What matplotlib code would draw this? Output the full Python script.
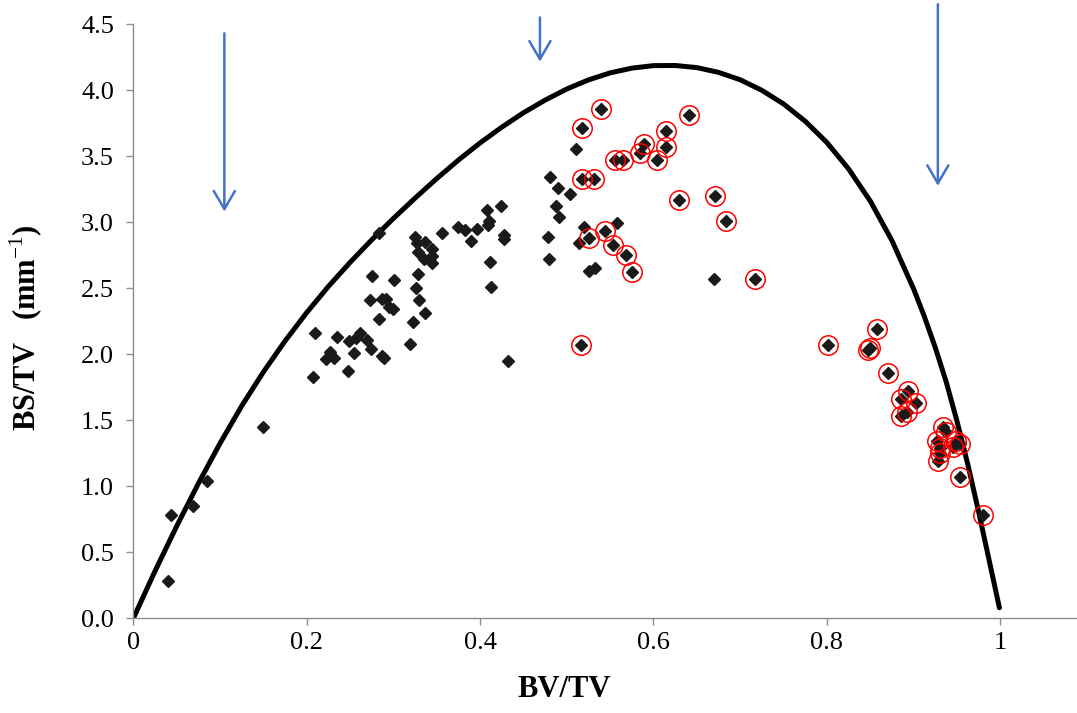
import matplotlib
matplotlib.use("Agg")
import matplotlib.pyplot as plt

plt.rcParams['font.family'] = ['Liberation Serif', 'DejaVu Serif']
plt.rcParams['mathtext.fontset'] = 'custom'
plt.rcParams['mathtext.rm'] = 'Liberation Serif'
plt.rcParams['mathtext.bf'] = 'Liberation Serif:bold'

# curve (BV/TV, BS/TV)
curve_x = [0.0, 0.025, 0.05, 0.075, 0.10, 0.125, 0.15, 0.175, 0.20, 0.225,
           0.25, 0.275, 0.30, 0.325, 0.35, 0.375, 0.40, 0.425, 0.45, 0.475,
           0.50, 0.525, 0.55, 0.575, 0.60, 0.625, 0.65, 0.675, 0.70, 0.725,
           0.75, 0.775, 0.80, 0.825, 0.85, 0.875, 0.90, 0.9125, 0.925, 0.9375,
           0.95, 0.9625, 0.975, 0.9875, 0.999]
curve_y = [0.0, 0.357, 0.698, 1.021, 1.325, 1.608, 1.865, 2.100, 2.315, 2.513,
           2.695, 2.866, 3.028, 3.182, 3.330, 3.470, 3.600, 3.719, 3.828, 3.924,
           4.008, 4.077, 4.130, 4.166, 4.185, 4.186, 4.170, 4.134, 4.078, 3.998,
           3.895, 3.764, 3.603, 3.403, 3.160, 2.861, 2.495, 2.284, 2.051, 1.793,
           1.495, 1.167, 0.808, 0.429, 0.08]

# samples without circle
black_x = [0.040, 0.044, 0.069, 0.085, 0.149,
           0.424, 0.408, 0.410, 0.409, 0.428, 0.427, 0.396, 0.382, 0.375, 0.389,
           0.356, 0.325, 0.327, 0.336, 0.328, 0.345, 0.335, 0.345, 0.344, 0.283,
           0.411, 0.412, 0.328, 0.275, 0.301, 0.326, 0.273, 0.287, 0.292, 0.295,
           0.300, 0.329, 0.283, 0.336, 0.323, 0.209, 0.235, 0.249, 0.257, 0.262,
           0.270, 0.319, 0.227, 0.222, 0.231, 0.255, 0.274, 0.287, 0.289, 0.248,
           0.207, 0.432,
           0.511, 0.481, 0.490, 0.504, 0.488, 0.491, 0.478, 0.480, 0.520, 0.558,
           0.514, 0.526, 0.533, 0.670]
black_y = [0.28, 0.78, 0.85, 1.04, 1.45,
           3.12, 3.09, 3.01, 2.98, 2.90, 2.87, 2.95, 2.94, 2.96, 2.86,
           2.92, 2.89, 2.84, 2.85, 2.77, 2.80, 2.72, 2.74, 2.69, 2.92,
           2.70, 2.51, 2.61, 2.59, 2.56, 2.50, 2.41, 2.42, 2.42, 2.36,
           2.34, 2.41, 2.27, 2.31, 2.24, 2.16, 2.13, 2.10, 2.12, 2.16,
           2.11, 2.08, 2.02, 1.96, 1.97, 2.01, 2.04, 1.99, 1.97, 1.87,
           1.83, 1.95,
           3.55, 3.34, 3.26, 3.21, 3.12, 3.04, 2.89, 2.72, 2.96, 2.99,
           2.84, 2.63, 2.65, 2.57]

# samples marked with a red circle
red_x = [0.540, 0.518, 0.641, 0.614, 0.614, 0.589, 0.584, 0.604, 0.556, 0.565,
         0.518, 0.531, 0.629, 0.671, 0.684, 0.526, 0.544, 0.553, 0.568, 0.575,
         0.516, 0.717,
         0.801, 0.858, 0.850, 0.847, 0.870, 0.894, 0.885, 0.903, 0.892, 0.885,
         0.934, 0.937, 0.927, 0.949, 0.953, 0.946, 0.931, 0.930, 0.928, 0.953, 0.980]
red_y = [3.86, 3.71, 3.81, 3.69, 3.57, 3.59, 3.52, 3.47, 3.47, 3.47,
         3.33, 3.33, 3.17, 3.20, 3.01, 2.88, 2.93, 2.83, 2.75, 2.62,
         2.07, 2.57,
         2.07, 2.19, 2.05, 2.03, 1.86, 1.72, 1.66, 1.63, 1.56, 1.53,
         1.45, 1.41, 1.34, 1.34, 1.32, 1.30, 1.29, 1.25, 1.19, 1.07, 0.78]

# blue arrows
arrow_x = [0.105, 0.469, 0.928]
arrow_start = [4.43, 4.55, 4.65]
arrow_end = [3.08, 4.215, 3.275]

fig = plt.figure(figsize=(10.77, 7.13), dpi=100)
ax = fig.add_axes([0.1238, 0.1328, 0.8762, 0.8335])

ax.plot(curve_x, curve_y, color='black', lw=3.6, solid_capstyle='round',
        solid_joinstyle='round', zorder=2)
ax.plot(black_x, black_y, 'D', color='#1a1a1a', ms=6, zorder=3)
ax.plot(red_x, red_y, 'D', color='#1a1a1a', ms=6, zorder=3)
ax.plot(red_x, red_y, 'o', mfc='none', mec='red', mew=1.1, ms=14, zorder=4)

for x, y0, y1 in zip(arrow_x, arrow_start, arrow_end):
    ax.annotate('', xy=(x, y1), xytext=(x, y0), annotation_clip=False,
                arrowprops=dict(arrowstyle='->, head_length=0.65, head_width=0.38',
                                color='#4472C4', lw=1.8, mutation_scale=20,
                                shrinkA=0, shrinkB=0))

ax.set_xlim(0, 1.0885)
ax.set_ylim(0, 4.5)
ax.set_xticks([0, 0.2, 0.4, 0.6, 0.8, 1.0])
ax.set_xticklabels(['0', '0.2', '0.4', '0.6', '0.8', '1'])
ax.set_yticks([0, 0.5, 1.0, 1.5, 2.0, 2.5, 3.0, 3.5, 4.0, 4.5])
ax.set_yticklabels(['%.1f' % v for v in ax.get_yticks()])

for s in ['top', 'right']:
    ax.spines[s].set_visible(False)
for s in ['left', 'bottom']:
    ax.spines[s].set_color('#8c8c8c')
    ax.spines[s].set_linewidth(1.0)
ax.tick_params(direction='out', length=5, width=1, color='#8c8c8c',
               labelsize=19)
ax.tick_params(axis='y', pad=9)
ax.tick_params(axis='x', pad=5)

ax.set_xlabel('BV/TV', fontsize=22, fontweight='bold')
ax.xaxis.set_label_coords(0.457, -0.095)
ax.set_ylabel(r'BS/TV   (mm$^{-1}$)', fontsize=22, fontweight='bold')
ax.yaxis.set_label_coords(-0.094, 0.489)

plt.savefig('out.png', dpi=100)
